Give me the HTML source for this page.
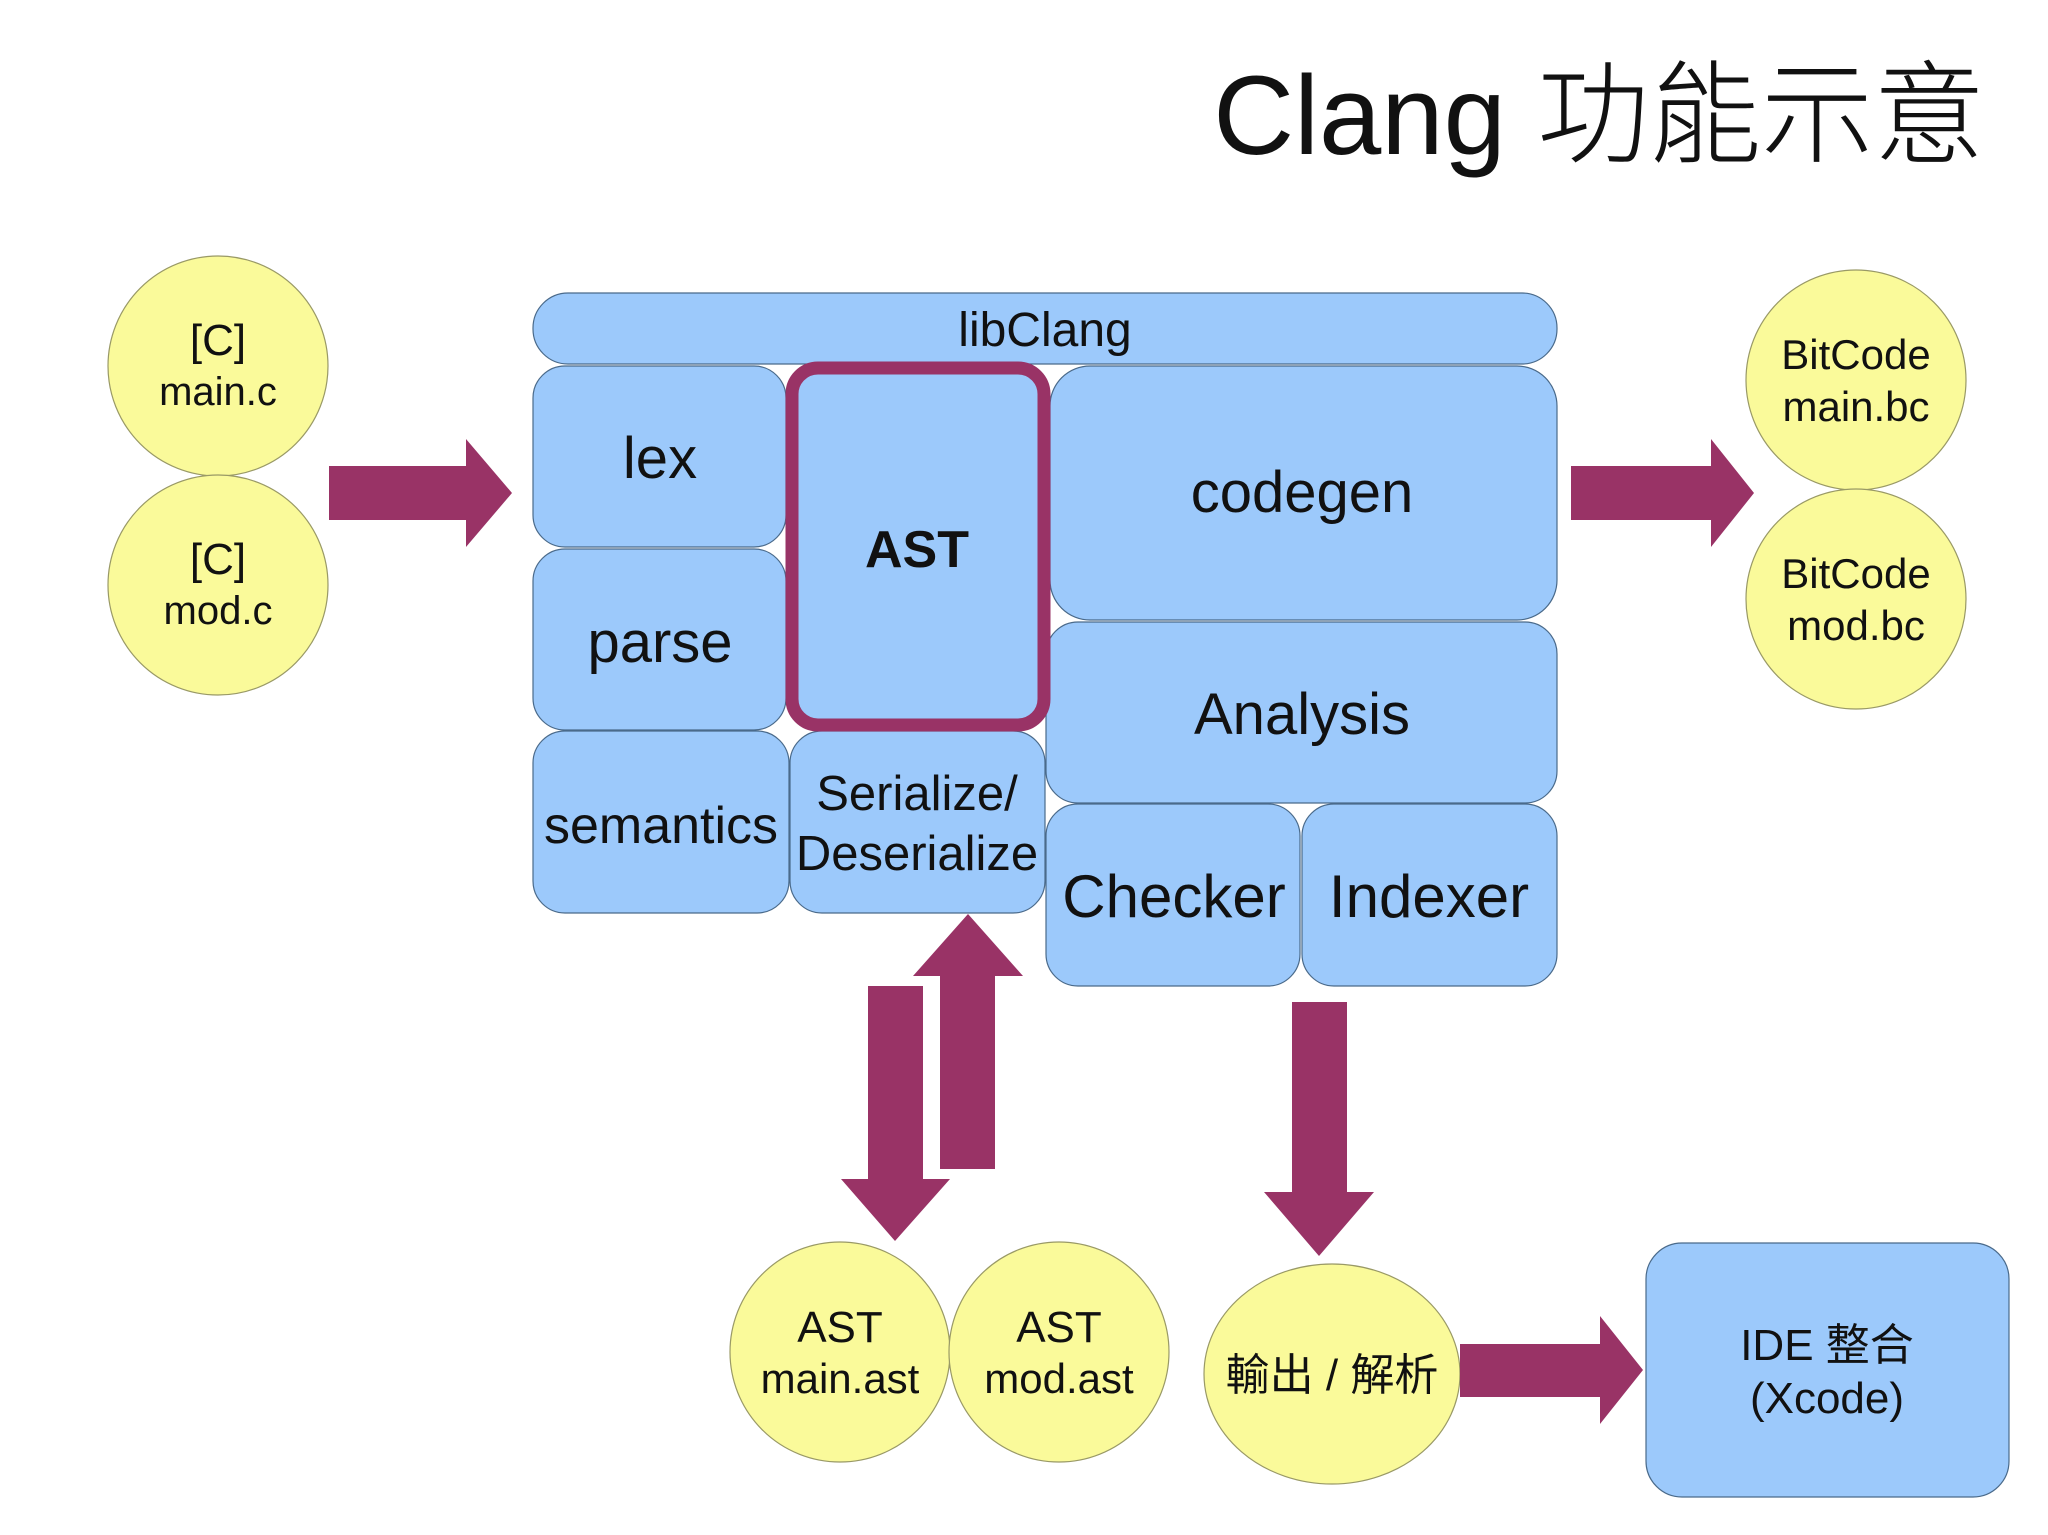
<!DOCTYPE html>
<html><head><meta charset="utf-8"><style>
html,body{margin:0;padding:0;background:#fff;}
svg{display:block;}
text{font-family:"Liberation Sans","Noto Sans CJK TC",sans-serif;fill:#111;}
</style></head><body>
<svg width="2048" height="1535" viewBox="0 0 2048 1535" xmlns="http://www.w3.org/2000/svg">
<g fill="#9cc9fb" stroke="#4a6a8a" stroke-width="1.2">
<rect x="533" y="293" width="1024" height="71" rx="35"/>
<rect x="533" y="366" width="253" height="181" rx="32"/>
<rect x="533" y="549" width="253" height="181" rx="32"/>
<rect x="533" y="731" width="256" height="182" rx="32"/>
<rect x="790" y="731" width="255" height="182" rx="32"/>
<rect x="1050" y="366" width="507" height="254" rx="40"/>
<rect x="1046" y="622" width="511" height="181" rx="32"/>
<rect x="1046" y="804" width="254" height="182" rx="32"/>
<rect x="1302" y="804" width="255" height="182" rx="32"/>
<rect x="1646" y="1243" width="363" height="254" rx="36"/>
</g>
<rect x="792" y="368" width="252" height="357" rx="26" fill="#9cc9fb" stroke="#993366" stroke-width="13"/>
<g fill="#fafa9a" stroke="#999966" stroke-width="1.2">
<circle cx="218" cy="366" r="110"/>
<circle cx="218" cy="585" r="110"/>
<circle cx="1856" cy="380" r="110"/>
<circle cx="1856" cy="599" r="110"/>
<circle cx="840" cy="1352" r="110"/>
<circle cx="1059" cy="1352" r="110"/>
<ellipse cx="1332" cy="1374" rx="128" ry="110"/>
</g>
<g fill="#993366">
<polygon points="329,466 466,466 466,439 512,493 466,547 466,520 329,520"/>
<polygon points="1571,466 1711,466 1711,439 1754,493 1711,547 1711,520 1571,520"/>
<polygon points="868,986 923,986 923,1179 950,1179 895,1241 841,1179 868,1179"/>
<polygon points="940,1169 995,1169 995,976 1023,976 968,914 913,976 940,976"/>
<polygon points="1292,1002 1347,1002 1347,1192 1374,1192 1319,1256 1264,1192 1292,1192"/>
<polygon points="1460,1344 1600,1344 1600,1316 1643,1370 1600,1424 1600,1397 1460,1397"/>
</g>
<text x="1985" y="154" font-size="112" text-anchor="end" font-weight="300">Clang 功能示意</text>
<g text-anchor="middle">
<text x="1045" y="346" font-size="48">libClang</text>
<text x="660" y="478" font-size="58">lex</text>
<text x="660" y="662" font-size="58">parse</text>
<text x="661" y="843" font-size="52">semantics</text>
<text x="917" y="567" font-size="52" font-weight="bold">AST</text>
<text x="917" y="810" font-size="49">Serialize/</text>
<text x="917" y="870" font-size="49">Deserialize</text>
<text x="1302" y="512" font-size="58">codegen</text>
<text x="1302" y="734" font-size="58">Analysis</text>
<text x="1174" y="917" font-size="60">Checker</text>
<text x="1429" y="917" font-size="60">Indexer</text>
<text x="218" y="355" font-size="44">[C]</text>
<text x="218" y="405" font-size="40">main.c</text>
<text x="218" y="574" font-size="44">[C]</text>
<text x="218" y="624" font-size="40">mod.c</text>
<text x="1856" y="369" font-size="42">BitCode</text>
<text x="1856" y="421" font-size="42">main.bc</text>
<text x="1856" y="588" font-size="42">BitCode</text>
<text x="1856" y="640" font-size="42">mod.bc</text>
<text x="840" y="1342" font-size="44">AST</text>
<text x="840" y="1393" font-size="42">main.ast</text>
<text x="1059" y="1342" font-size="44">AST</text>
<text x="1059" y="1393" font-size="42">mod.ast</text>
<text x="1332" y="1390" font-size="44">輸出 / 解析</text>
<text x="1827" y="1360" font-size="44">IDE 整合</text>
<text x="1827" y="1413" font-size="44">(Xcode)</text>
</g>
</svg>
</body></html>
